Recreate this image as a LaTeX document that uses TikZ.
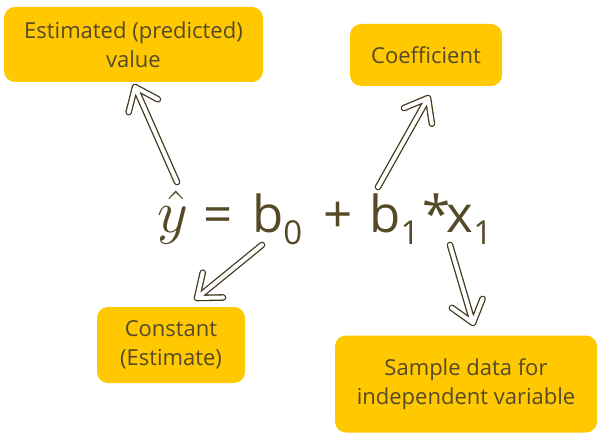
\documentclass[tikz,border=0pt]{standalone}
\usepackage{fix-cm}
\usepackage{fontspec}
\setmainfont{Open Sans}
\usetikzlibrary{calc}
\definecolor{boxgold}{RGB}{255,200,0}
\definecolor{inkolive}{RGB}{84,74,40}
\definecolor{rimolive}{RGB}{66,58,30}
\newcommand{\lowsub}[1]{\raisebox{-12pt}{\fontsize{33}{33}\selectfont #1}}

\begin{document}
\begin{tikzpicture}[x=1pt,y=-1pt,
  gold/.style={fill=boxgold,rounded corners=11pt,inner sep=0pt,align=center,
    text=inkolive,font=\fontsize{22}{29}\selectfont},
  hollow/.style={draw=rimolive,line width=6.6pt,line cap=round,line join=round,
    postaction={draw=white,line width=4pt}}]
\useasboundingbox (0,0) rectangle (601,435);
\def\armlen{26pt}
\def\armang{38}
% the four boxes
\node[gold,minimum width=259pt,minimum height=75pt] (est) at (133.5,44.5) {Estimated (predicted)\\value};
\node[gold,minimum width=152pt,minimum height=62pt] (coef) at (426,55) {Coefficient};
\node[gold,minimum width=148pt,minimum height=76pt] (const) at (171,345) {Constant\\(Estimate)};
\node[gold,minimum width=262pt,minimum height=97pt] (sample) at (466,384) {Sample data for\\independent variable};
% the equation
\node[anchor=base west,inner sep=0pt,text=inkolive,font=\fontsize{51}{51}\selectfont] (eqn) at (157,233)
  {{\fontsize{60}{60}\selectfont$\hat{y}$}\hspace{15pt}=\hspace{20pt}b\lowsub{0}\hspace{21pt}+\hspace{17pt}b\lowsub{1}\hspace{3pt}*\hspace{-4pt}x\lowsub{1}};
% arrow ends
\coordinate (t1) at (177,182);
\coordinate (h1) at (135,87);
\coordinate (t2) at (378,187);
\coordinate (h2) at (428,98);
\coordinate (t3) at (262,245);
\coordinate (h3) at (197,298);
\coordinate (t4) at (450,245);
\coordinate (h4) at (473,323);
\foreach \t/\h in {t1/h1,t2/h2,t3/h3,t4/h4}
  \draw[hollow] (\t) -- (\h) ($(\h)!\armlen!\armang:(\t)$) -- (\h) -- ($(\h)!\armlen!-\armang:(\t)$);
\end{tikzpicture}
\end{document}
